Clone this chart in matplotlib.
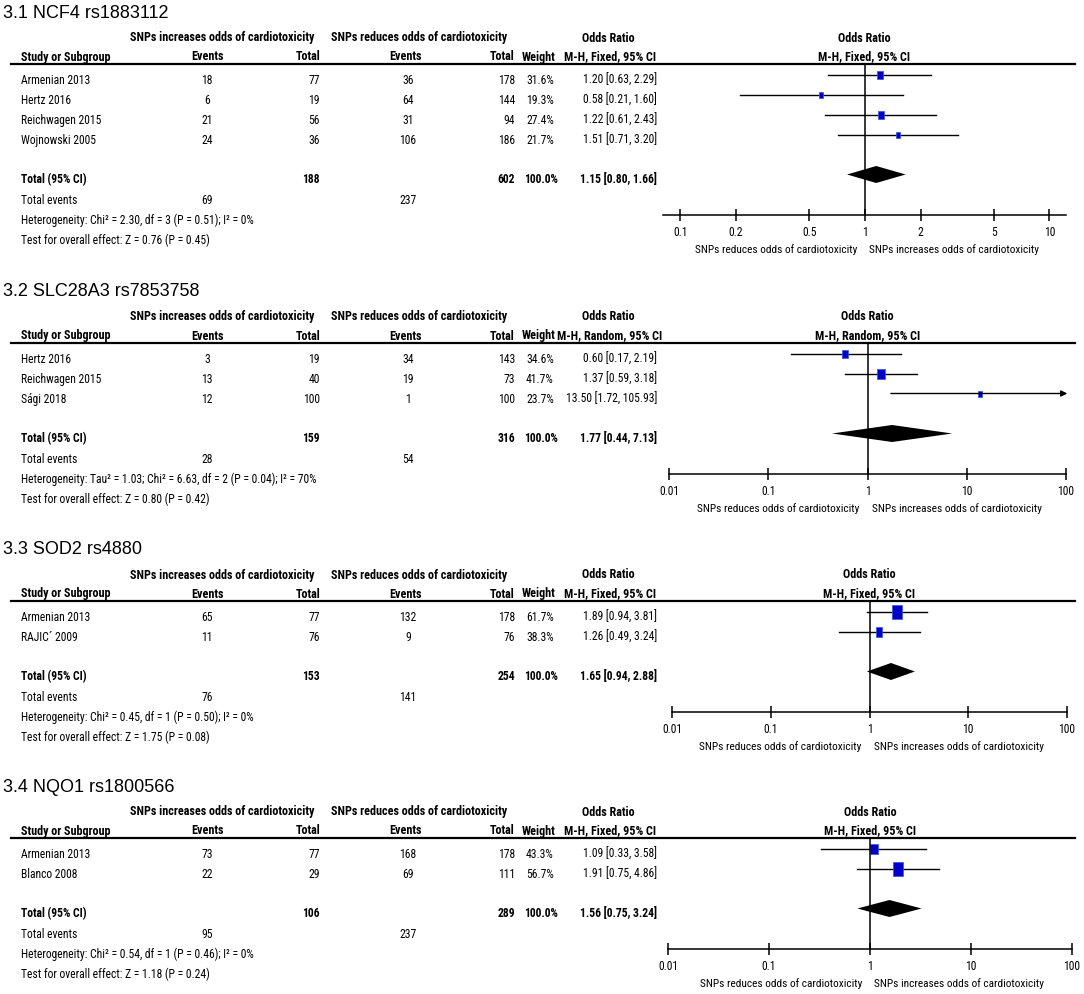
import matplotlib
matplotlib.use("Agg")
import matplotlib.pyplot as plt
from matplotlib.lines import Line2D
from matplotlib.ticker import NullLocator
import numpy as np

W, H = 1084, 994

# ---- data ----
titles = ["3.1 NCF4 rs1883112", "3.2 SLC28A3 rs7853758", "3.3 SOD2 rs4880", "3.4 NQO1 rs1800566"]
methods = ["M-H, Fixed, 95% CI", "M-H, Random, 95% CI", "M-H, Fixed, 95% CI", "M-H, Fixed, 95% CI"]

studies = [["Armenian 2013", "Hertz 2016", "Reichwagen 2015", "Wojnowski 2005"],
           ["Hertz 2016", "Reichwagen 2015", "Sági 2018"],
           ["Armenian 2013", "RAJIC´ 2009"],
           ["Armenian 2013", "Blanco 2008"]]
events_inc = [[18, 6, 21, 24], [3, 13, 12], [65, 11], [73, 22]]
total_inc = [[77, 19, 56, 36], [19, 40, 100], [77, 76], [77, 29]]
events_red = [[36, 64, 31, 106], [34, 19, 1], [132, 9], [168, 69]]
total_red = [[178, 144, 94, 186], [143, 73, 100], [178, 76], [178, 111]]
weights = [[31.6, 19.3, 27.4, 21.7], [34.6, 41.7, 23.7], [61.7, 38.3], [43.3, 56.7]]
odds = [[1.20, 0.58, 1.22, 1.51], [0.60, 1.37, 13.50], [1.89, 1.26], [1.09, 1.91]]
ci_lo = [[0.63, 0.21, 0.61, 0.71], [0.17, 0.59, 1.72], [0.94, 0.49], [0.33, 0.75]]
ci_hi = [[2.29, 1.60, 2.43, 3.20], [2.19, 3.18, 105.93], [3.81, 3.24], [3.58, 4.86]]

sum_total_inc = [188, 159, 153, 106]
sum_total_red = [602, 316, 254, 289]
sum_events_inc = [69, 28, 76, 95]
sum_events_red = [237, 54, 141, 237]
pooled_or = [1.15, 1.77, 1.65, 1.56]
pooled_lo = [0.80, 0.44, 0.94, 0.75]
pooled_hi = [1.66, 7.13, 2.88, 3.24]
heterogeneity = ["Heterogeneity: Chi² = 2.30, df = 3 (P = 0.51); I² = 0%",
                 "Heterogeneity: Tau² = 1.03; Chi² = 6.63, df = 2 (P = 0.04); I² = 70%",
                 "Heterogeneity: Chi² = 0.45, df = 1 (P = 0.50); I² = 0%",
                 "Heterogeneity: Chi² = 0.54, df = 1 (P = 0.46); I² = 0%"]
overall = ["Test for overall effect: Z = 0.76 (P = 0.45)",
           "Test for overall effect: Z = 0.80 (P = 0.42)",
           "Test for overall effect: Z = 1.75 (P = 0.08)",
           "Test for overall effect: Z = 1.18 (P = 0.24)"]

ticks = [[0.1, 0.2, 0.5, 1, 2, 5, 10],
         [0.01, 0.1, 1, 10, 100], [0.01, 0.1, 1, 10, 100], [0.01, 0.1, 1, 10, 100]]
tick_labels = [["0.1", "0.2", "0.5", "1", "2", "5", "10"],
               ["0.01", "0.1", "1", "10", "100"], ["0.01", "0.1", "1", "10", "100"],
               ["0.01", "0.1", "1", "10", "100"]]
xlims = [(0.0804, 12.29), (0.01, 100), (0.01, 100), (0.01, 100)]
ax_px = [(663, 1066), (669, 1066), (672, 1067), (668, 1072)]  # pixel extent of the scale

NARROW = ["Arial Narrow", "Liberation Sans Narrow", "Roboto Condensed", "PT Sans Narrow",
          "Archivo Narrow", "Liberation Sans", "DejaVu Sans"]
plt.rcParams["font.family"] = NARROW
FS = 8.4      # table rows
FSH = 8.7     # bold headers
FSA = 8.2     # scale labels
BLUE = "#0000c8"

fig = plt.figure(figsize=(W / 100, H / 100), dpi=100)


def fx(px):
    return px / W


def fy(py):
    return 1 - py / H


def txt(px, py, s, ha="left", bold=False, size=FS, family=None):
    fig.text(fx(px), fy(py), s, ha=ha, va="center", fontsize=size,
             family=family or NARROW, fontweight="bold" if bold else "normal")


def head(px, py, s, ha="left"):
    txt(px, py, s, ha=ha, bold=True, size=FSH)


# box shape: taller than wide, like the reference
box = [(-0.36, -0.5), (0.36, -0.5), (0.36, 0.5), (-0.36, 0.5), (-0.36, -0.5)]

y0 = 64
toff = 6  # text sits a little below the marks
for k in range(4):
    n = len(studies[k])
    row_y = [10.5 + 20 * i for i in range(n)]
    tot_y = 10.5 + 20 * (n + 1)
    bottom = tot_y + 40

    txt(3, y0 - 51, titles[k], size=13, family=["Liberation Sans", "DejaVu Sans"])
    head(314, y0 - 26, "SNPs increases odds of cardiotoxicity", ha="right")
    head(507, y0 - 26, "SNPs reduces odds of cardiotoxicity", ha="right")
    head(608, y0 - 26, "Odds Ratio", ha="center")
    hy = y0 - 7
    head(21, hy, "Study or Subgroup")
    head(207, hy, "Events", ha="center")
    head(320, hy, "Total", ha="right")
    head(406, hy, "Events", ha="center")
    head(515, hy, "Total", ha="right")
    head(539, hy, "Weight", ha="center")
    head(610, hy, methods[k], ha="center")

    cx = (ax_px[k][0] + ax_px[k][1]) / 2
    head(cx, y0 - 26, "Odds Ratio", ha="center")
    head(cx, hy, methods[k], ha="center")

    fig.add_artist(Line2D([fx(11), fx(1075)], [fy(y0), fy(y0)], color="black", lw=1.6))

    for i in range(n):
        py = y0 + row_y[i] + toff
        txt(21, py, studies[k][i])
        txt(207, py, str(events_inc[k][i]), ha="center")
        txt(320, py, str(total_inc[k][i]), ha="right")
        txt(408, py, str(events_red[k][i]), ha="center")
        txt(515, py, str(total_red[k][i]), ha="right")
        txt(540, py, f"{weights[k][i]:.1f}%", ha="center")
        txt(657, py, f"{odds[k][i]:.2f} [{ci_lo[k][i]:.2f}, {ci_hi[k][i]:.2f}]", ha="right")

    py = y0 + tot_y + 5
    txt(21, py, "Total (95% CI)", bold=True)
    txt(320, py, str(sum_total_inc[k]), ha="right", bold=True)
    txt(515, py, str(sum_total_red[k]), ha="right", bold=True)
    txt(541, py, "100.0%", ha="center", bold=True)
    txt(657, py, f"{pooled_or[k]:.2f} [{pooled_lo[k]:.2f}, {pooled_hi[k]:.2f}]", ha="right", bold=True)
    txt(21, py + 21, "Total events")
    txt(207, py + 21, str(sum_events_inc[k]), ha="center")
    txt(408, py + 21, str(sum_events_red[k]), ha="center")
    txt(21, py + 41, heterogeneity[k])
    txt(21, py + 61, overall[k])

    # forest plot axes, y in pixels below the header line
    left, right = ax_px[k]
    ax = fig.add_axes([fx(left), fy(y0 + bottom), (right - left) / W, bottom / H])
    ax.patch.set_visible(False)
    ax.set_xscale("log")
    ax.set_xlim(*xlims[k])
    ax.set_ylim(bottom, 0)
    xmax = xlims[k][1]

    for i in range(n):
        y = row_y[i]
        if ci_hi[k][i] > xmax:
            ax.annotate("", xy=(xmax * 1.03, y), xytext=(ci_lo[k][i], y),
                        annotation_clip=False,
                        arrowprops=dict(arrowstyle="-|>", color="black", lw=1.0,
                                        mutation_scale=9, shrinkA=0, shrinkB=0))
        else:
            ax.plot([ci_lo[k][i], ci_hi[k][i]], [y, y], color="black", lw=1.0)
        h = 2.4 + 0.19 * weights[k][i]
        ax.plot([odds[k][i]], [y], marker=box, markersize=h * 0.72, color=BLUE,
                markeredgecolor="#3355dd", markeredgewidth=0.5, linestyle="none")

    ax.fill([pooled_lo[k], pooled_or[k], pooled_hi[k], pooled_or[k]],
            [tot_y, tot_y - 8.5, tot_y, tot_y + 8.5], color="black", lw=0)
    ax.axvline(1, color="black", lw=1.1)

    for s in ["top", "left", "right"]:
        ax.spines[s].set_visible(False)
    ax.spines["bottom"].set_linewidth(1.1)
    ax.set_yticks([])
    ax.set_xticks(ticks[k])
    ax.set_xticklabels(tick_labels[k])
    ax.xaxis.set_minor_locator(NullLocator())
    ax.tick_params(axis="x", direction="inout", length=8, width=1.1, labelsize=FS, pad=4.5)

    ax.annotate("SNPs reduces odds of cardiotoxicity", xy=(1, 0),
                xycoords=("data", "axes fraction"), xytext=(-8, -35),
                textcoords="offset pixels", ha="right", va="center", fontsize=FSA)
    ax.annotate("SNPs increases odds of cardiotoxicity", xy=(1, 0),
                xycoords=("data", "axes fraction"), xytext=(4, -35),
                textcoords="offset pixels", ha="left", va="center", fontsize=FSA)

    y0 += 195 + 21 * n

fig.savefig("out.png", dpi=100)
